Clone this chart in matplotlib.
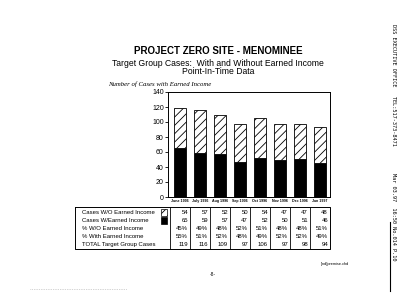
import matplotlib
matplotlib.use("Agg")
import matplotlib.pyplot as plt
import numpy as np

months = ["June 1996", "July 1996", "Aug 1996", "Sep 1996",
          "Oct 1996", "Nov 1996", "Dec 1996", "Jan 1997"]
without_ei = [54, 57, 52, 50, 54, 47, 47, 48]
with_ei = [65, 59, 57, 47, 52, 50, 51, 46]
pct_without = ["45%", "49%", "48%", "52%", "51%", "48%", "48%", "51%"]
pct_with = ["55%", "51%", "52%", "48%", "49%", "52%", "52%", "49%"]
totals = [119, 116, 109, 97, 106, 97, 98, 94]
row_labels = ["Cases W/O Earned Income", "Cases W/Earned Income",
              "% W/O Earned Income", "% With Earned Income",
              "TOTAL Target Group Cases"]

plt.rcParams["font.family"] = ["Liberation Sans", "DejaVu Sans"]
plt.rcParams["hatch.linewidth"] = 0.6

W, H = 400, 308
fig = plt.figure(figsize=(4.0, 3.08), dpi=100)
fig.patch.set_facecolor("white")


def fx(px):
    return px / W


def fy(py):
    return 1 - py / H


# titles
fig.text(fx(218), fy(51), "PROJECT ZERO SITE - MENOMINEE", ha="center", va="center",
         fontsize=7, fontweight="bold")
fig.text(fx(218), fy(63), "Target Group Cases:  With and Without Earned Income",
         ha="center", va="center", fontsize=6.2)
fig.text(fx(218), fy(72), "Point-In-Time Data", ha="center", va="center", fontsize=6.2)
fig.text(fx(108), fy(84), "Number of Cases with Earned Income", ha="left", va="center",
         fontsize=4.9, style="italic", family="Liberation Serif")

# bar chart
ax = fig.add_axes([fx(168), fy(197), fx(330) - fx(168), fy(92) - fy(197)])
x = np.arange(len(months))
ax.bar(x, with_ei, width=0.64, color="black", edgecolor="black", linewidth=0.6)
ax.bar(x, without_ei, width=0.64, bottom=with_ei, color="white", edgecolor="black",
       hatch="////", linewidth=0.6)
ax.set_xlim(-0.6, 7.5)
ax.set_ylim(0, 140)
ax.set_yticks(range(0, 141, 20))
ax.set_xticks(x)
ax.set_xticklabels(months, fontsize=2.6, fontweight="bold")
ax.tick_params(axis="y", labelsize=5, length=2, width=0.6, pad=1)
ax.tick_params(axis="x", length=0, pad=1.5)
for s in ax.spines.values():
    s.set_linewidth(0.7)

# data table
tx = fig.add_axes([fx(75), fy(249), fx(330) - fx(75), fy(207) - fy(249)])
tx.set_xlim(-5.25, 7.5)
tx.set_ylim(5.3, 0)
tx.set_axis_off()
tx.plot([-5.25, 7.5, 7.5, -5.25, -5.25], [0, 0, 5.3, 5.3, 0], color="black", lw=0.7,
        clip_on=False)
for i in range(len(months)):
    tx.plot([i - 0.5, i - 0.5], [0, 5.3], color="black", lw=0.6)
rows = [[str(v) for v in without_ei], [str(v) for v in with_ei],
        pct_without, pct_with, [str(v) for v in totals]]
for r, (lab, vals) in enumerate(zip(row_labels, rows)):
    yc = r + 0.7
    tx.text(-4.9, yc, lab, fontsize=4.3, va="center", ha="left")
    for i, v in enumerate(vals):
        tx.text(i + 0.4, yc, v, fontsize=4.3, va="center", ha="right")
# legend swatches
tx.bar([-0.8], [0.8], bottom=[0.3], width=0.3, color="white", edgecolor="black",
       hatch="////", linewidth=0.5)
tx.bar([-0.8], [0.8], bottom=[1.3], width=0.3, color="black", edgecolor="black",
       linewidth=0.5)

# footer
fig.text(fx(321), fy(264), "[ind]premise.chd", fontsize=2.8, ha="left", va="center")
fig.text(fx(213), fy(274), "-8-", fontsize=3.5, ha="center", va="center")
fig.lines.append(plt.Line2D([fx(30), fx(127)], [fy(289), fy(289)], transform=fig.transFigure,
                            color="#aaaaaa", lw=0.5, linestyle=(0, (1, 1.5))))

# fax header along the right edge
fig.text(fx(394), fy(24), "DSS EXECUTIVE OFFICE   TEL:517-373-8471", rotation=-90,
         fontsize=3.8, ha="center", va="top", family="DejaVu Sans Mono")
fig.text(fx(394), fy(173), "Mar 03.97  16:50 No.014 P.10", rotation=-90,
         fontsize=3.8, ha="center", va="top", family="DejaVu Sans Mono")
fig.lines.append(plt.Line2D([fx(390), fx(390)], [fy(222), fy(291)], transform=fig.transFigure,
                            color="black", lw=0.8))

fig.savefig("out.png", dpi=100, facecolor="white")
